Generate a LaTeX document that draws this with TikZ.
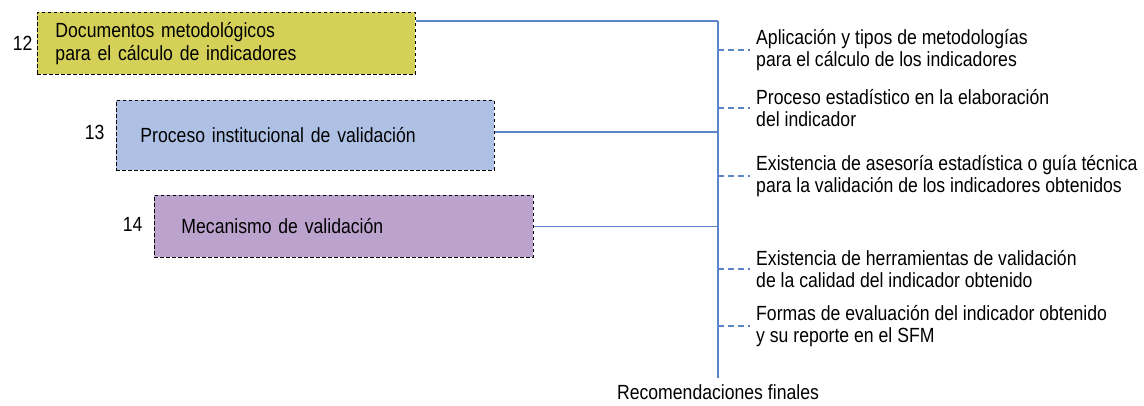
\documentclass[tikz,border=0pt]{standalone}
\usepackage{fontspec}
\setmainfont[FakeStretch=0.86]{Liberation Sans}
\usetikzlibrary{positioning}
\definecolor{amarillo}{HTML}{D5D158}
\definecolor{celeste}{HTML}{AEC1E5}
\definecolor{lila}{HTML}{BCA3CE}
\definecolor{eje}{HTML}{5B84C9}
\newcommand{\temanode}[5] {\node at (#1) (#2) [tema, fill=#3, minimum width=#4] {#5};}
\newcommand{\recomnode}[3] {\coordinate (e#2) at (718,#1); \node at (750,#1) (#2) [recom] {#3}; \draw [stub] (e#2) -- (#2.west);}

\begin{document}
\begin{tikzpicture}[x=1pt, y=-1pt,
  tema/.style={draw, dashed, dash pattern=on 3.5pt off 2.5pt, line width=0.9pt, anchor=north west, minimum height=62pt, inner xsep=18pt, align=left, text width=#1},
  tema/.default=342pt,
  recom/.style={anchor=west, align=left, inner xsep=6pt},
  stub/.style={eje, line width=1.3pt, dash pattern=on 6pt off 4pt},
  rama/.style={eje, line width=1.4pt},
  font=\fontsize{20.5}{22.5}\selectfont]

\useasboundingbox (0,0) rectangle (1144,406);

\temanode {37,12}{b12}{amarillo}{378pt}{Documentos metodológicos\\para el cálculo de indicadores};
\node [tema=330pt, fill=celeste, minimum width=378pt, minimum height=70pt, inner xsep=24pt] at (116,100) (b13) {Proceso institucional de validación};
\node [tema=325pt, fill=lila, minimum width=379pt, inner xsep=27pt] at (154,195) (b14) {Mecanismo de validación};

\node [left=1pt of b12] (n12) {12};
\node [left=8pt of b13, yshift=3pt] (n13) {13};
\node [left=8pt of b14, yshift=2pt] (n14) {14};

% eje de recomendaciones
\coordinate (arriba) at (718,21);
\coordinate (abajo) at (718,378);
\node [below=3pt of abajo] (fin) {Recomendaciones finales};
\draw [rama] (arriba) -- (abajo);
\draw [rama] (b12.north east |- arriba) -- (arriba);
\draw [rama] ([yshift=-32pt]b13.north east) -- ([yshift=-32pt]b13.north east -| arriba);
\draw [rama] (b14.east) -- (b14.east -| arriba);

\recomnode {50}{r1}{Aplicación y tipos de metodologías\\para el cálculo de los indicadores};
\recomnode {108}{r2}{Proceso estadístico en la elaboración\\del indicador};
\recomnode {176}{r3}{Existencia de asesoría estadística o guía técnica\\para la validación de los indicadores obtenidos};
\recomnode {269}{r4}{Existencia de herramientas de validación\\de la calidad del indicador obtenido};
\recomnode {326}{r5}{Formas de evaluación del indicador obtenido\\y su reporte en el SFM};

\end{tikzpicture}
\end{document}
